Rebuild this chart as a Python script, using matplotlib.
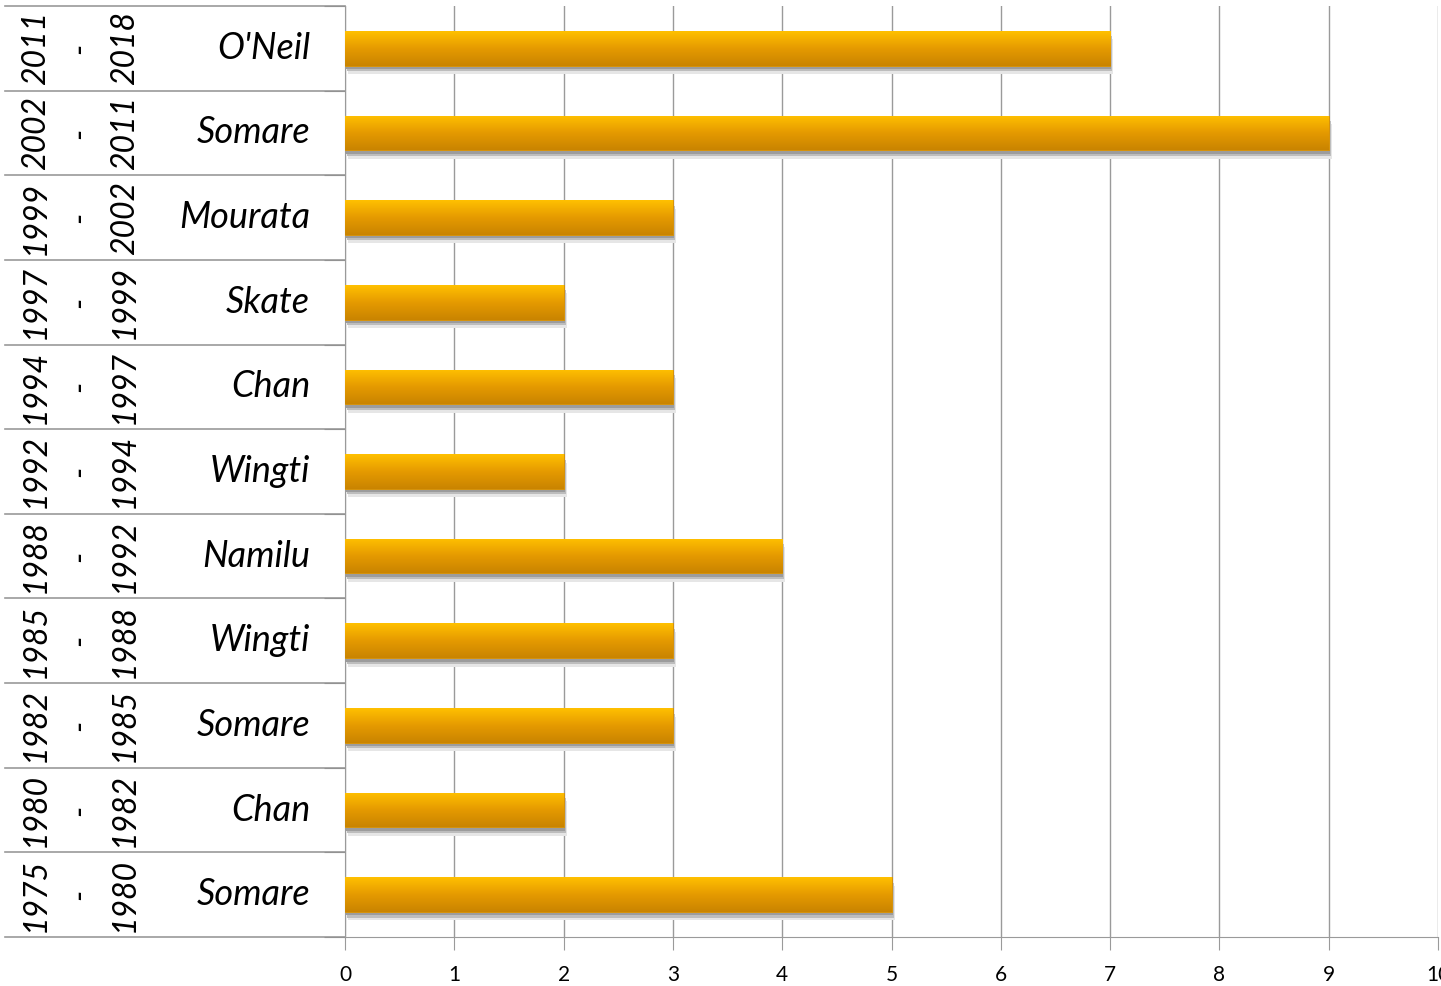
import numpy as np
import matplotlib
matplotlib.use("Agg")
import matplotlib.pyplot as plt
from matplotlib.transforms import blended_transform_factory
from matplotlib.colors import LinearSegmentedColormap

# bottom to top
names = ["Somare", "Chan", "Somare", "Wingti", "Namilu", "Wingti",
         "Chan", "Skate", "Mourata", "Somare", "O'Neil"]
startYears = ["1975", "1980", "1982", "1985", "1988", "1992",
              "1994", "1997", "1999", "2002", "2011"]
endYears = ["1980", "1982", "1985", "1988", "1992", "1994",
            "1997", "1999", "2002", "2011", "2018"]
years = [5, 2, 3, 3, 4, 2, 3, 2, 3, 9, 7]
xticks = list(range(0, 11))

W, H = 1441, 986
fig = plt.figure(figsize=(W / 100, H / 100), dpi=100)
ax = fig.add_axes([345 / W, 1 - 937 / H, (1438 - 345) / W, (937 - 6) / H])

gridColor = "#9a9a9a"
barH = 0.41
ypos = np.arange(len(names))

# shadows
ax.barh(ypos - 0.10, years, height=barH, left=0.03, color="#e6e6e6", zorder=2)
ax.barh(ypos - 0.065, years, height=barH, left=0.02, color="#bdbdbd", zorder=2)
ax.barh(ypos - 0.04, years, height=barH, left=0.01, color="#9c9c9c", zorder=2)

bars = ax.barh(ypos, years, height=barH, color="#f0a800", zorder=3,
               edgecolor="#d89000", linewidth=0.6)

cmap = LinearSegmentedColormap.from_list("gold", ["#c98400", "#e59a00", "#ffc000"])
grad = np.linspace(0, 1, 100).reshape(-1, 1)
for b, v, y in zip(bars, years, ypos):
    im = ax.imshow(grad, cmap=cmap, aspect="auto", origin="lower",
                   extent=(0, v, y - barH / 2, y + barH / 2), zorder=4)
    im.set_clip_path(b)

ax.set_xlim(0, 10)
ax.set_ylim(-0.5, len(names) - 0.5)
ax.set_xticks(xticks)
ax.set_xticklabels([str(t) for t in xticks], fontsize=15, family="Lato")
ax.tick_params(axis="x", length=9, color=gridColor, pad=11)
ax.set_yticks(np.arange(len(names) + 1) - 0.5)
ax.set_yticklabels([])
ax.tick_params(axis="y", length=15, color="#707070")
ax.grid(axis="x", color=gridColor, linewidth=1, zorder=0)
ax.set_axisbelow(True)
for s in ["top", "right"]:
    ax.spines[s].set_visible(False)
ax.spines["left"].set_color(gridColor)
ax.spines["bottom"].set_color(gridColor)

trans = blended_transform_factory(fig.transFigure, ax.transData)
for i in range(len(names) + 1):
    ax.plot([5 / W, 345 / W], [i - 0.5, i - 0.5], color=gridColor, lw=1.2,
            transform=trans, clip_on=False)

for i in range(len(names)):
    ax.text(36 / W, i, startYears[i], rotation=90, ha="center", va="center",
            fontsize=23, style="italic", family="Lato", transform=trans)
    ax.text(80 / W, i, "-", rotation=90, ha="center", va="center",
            fontsize=23, style="italic", family="Lato", transform=trans)
    ax.text(125 / W, i, endYears[i], rotation=90, ha="center", va="center",
            fontsize=23, style="italic", family="Lato", transform=trans)
    ax.text(310 / W, i, names[i], ha="right", va="center",
            fontsize=26, style="italic", family="Lato", transform=trans)

fig.savefig("out.png", dpi=100)
